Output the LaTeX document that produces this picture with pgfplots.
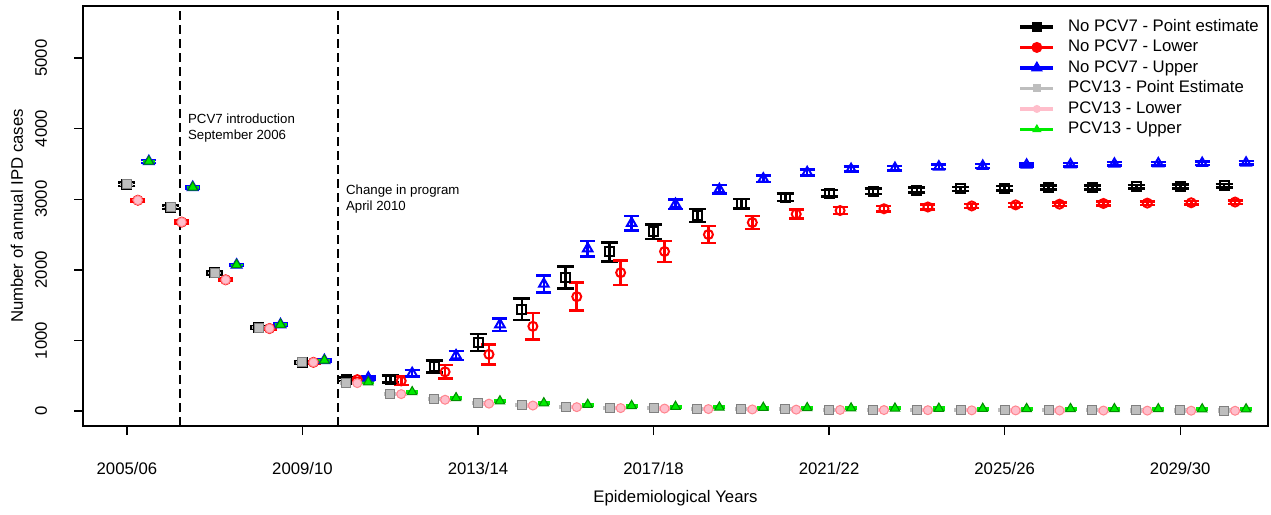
\documentclass[border=0pt]{standalone}
\usepackage{fontspec}
\setmainfont{Liberation Sans}
\usepackage{pgfplots}
\usepackage{pgfplotstable}
\pgfplotsset{compat=1.18}
\definecolor{pcvgray}{RGB}{190,190,190}
\definecolor{pcvpink}{RGB}{255,190,203}
\definecolor{pcvgreen}{RGB}{0,235,0}
\definecolor{pcvblue}{RGB}{0,0,255}
\definecolor{pcvred}{RGB}{255,0,0}

\pgfplotstableread{
i pe pee lo loe up upe g p gr ge
0 3211 25 2986 20 3535 20 3211 2986 3535 0
1 2887 25 2676 20 3169 20 2887 2676 3169 0
2 1958 20 1859 15 2070 15 1958 1859 2070 0
3 1183 15 1169 15 1225 15 1183 1169 1225 0
4 690 15 690 15 718 15 690 690 718 0
5 451 25 445 25 470 20 400 395 410 12
6 451 50 427 60 535 45 245 240 270 12
7 635 85 555 95 786 64 165 160 185 12
8 972 120 803 140 1225 90 113 105 141 12
9 1440 150 1200 190 1800 120 85 78 113 12
10 1890 155 1620 200 2300 110 62 55 90 12
11 2255 135 1960 175 2660 100 48 42 75 12
12 2540 105 2260 150 2930 70 40 35 62 12
13 2770 90 2500 120 3140 60 33 28 52 12
14 2935 70 2670 90 3290 45 28 23 48 12
15 3030 55 2790 65 3380 40 24 20 44 12
16 3085 45 2840 50 3425 35 20 16 40 12
17 3113 40 2865 40 3440 30 18 14 38 12
18 3130 35 2890 35 3460 30 16 12 36 12
19 3145 30 2905 30 3470 28 14 10 34 12
20 3155 30 2920 28 3485 25 12 9 32 12
21 3165 28 2930 25 3490 25 11 8 31 12
22 3170 28 2940 25 3500 25 10 7 30 12
23 3175 27 2945 25 3505 25 9 6 29 12
24 3180 27 2950 25 3510 25 8 5 28 12
25 3190 27 2960 25 3515 25 7 4 27 12
}\data

\begin{document}
\begin{tikzpicture}
\begin{axis}[
  scale only axis, width=1185bp, height=420bp,
  xmin=-1, xmax=26, ymin=-212, ymax=5737,
  axis line style={line width=1.4bp},
  tick style={line width=1.4bp, black},
  tick align=outside, major tick length=9bp,
  xtick pos=bottom, ytick pos=left,
  xtick={0,4,8,12,16,20,24},
  xticklabels={2005/06,2009/10,2013/14,2017/18,2021/22,2025/26,2029/30},
  ytick={0,1000,2000,3000,4000,5000},
  yticklabels={0,1000,2000,3000,4000,5000},
  tick label style={font=\fontsize{16.8}{20}\selectfont},
  xticklabel style={anchor=center, yshift=-34bp},
  yticklabel style={xshift=-33bp, rotate=90, anchor=center},
  xlabel={Epidemiological Years},
  ylabel={Number of annual IPD cases},
  label style={font=\fontsize{16.8}{20}\selectfont},
  xlabel style={at={(axis description cs:0.5,-0.1714)}, anchor=center},
  ylabel style={at={(axis description cs:-0.0557,0.5)}, anchor=center},
  legend style={at={(1,1)}, anchor=north east, xshift=-9bp, yshift=-13bp,
    draw=none, fill=none, inner sep=0pt, row sep=5bp, column sep=13bp,
    font=\fontsize{16.8}{20}\selectfont,
    nodes={inner sep=0pt, text height=12bp, text depth=3.5bp}},
  legend cell align=left,
  legend image code/.code={\draw[mark repeat=2,mark phase=2,#1] plot coordinates {(0bp,0bp) (16.5bp,0bp) (33bp,0bp)};},
]
\addlegendimage{black, line width=3.5bp, mark=square*, mark size=4.5bp, mark options={solid, line width=1bp}}
\addlegendentry{No PCV7 - Point estimate}
\addlegendimage{pcvred, line width=3.5bp, mark=*, mark size=5bp, mark options={solid, line width=1bp}}
\addlegendentry{No PCV7 - Lower}
\addlegendimage{pcvblue, line width=3.5bp, mark=triangle*, mark size=6bp, mark options={solid, line width=1bp}}
\addlegendentry{No PCV7 - Upper}
\addlegendimage{pcvgray, line width=3.5bp, mark=square*, mark size=3.5bp, mark options={solid, line width=1bp}}
\addlegendentry{PCV13 - Point Estimate}
\addlegendimage{pcvpink, line width=3.5bp, mark=*, mark size=3.5bp, mark options={solid, line width=1bp}}
\addlegendentry{PCV13 - Lower}
\addlegendimage{pcvgreen, line width=3.5bp, mark=triangle*, mark size=4.5bp, mark options={solid, line width=1bp}}
\addlegendentry{PCV13 - Upper}

\addplot[black, line width=1.8bp, dash pattern=on 9bp off 5bp] coordinates {(1.207,-212) (1.207,5737)};
\addplot[black, line width=1.8bp, dash pattern=on 9bp off 5bp] coordinates {(4.81,-212) (4.81,5737)};

\addplot[black, only marks, mark=square, mark size=4.5bp, mark options={line width=2bp},
  error bars/.cd, y dir=both, y explicit,
  error bar style={line width=2.6bp, black},
  error mark options={rotate=90, line width=2.6bp, mark size=8.5bp, black}]
  table[x=i, y=pe, y error=pee]{\data};
\addplot[pcvred, only marks, mark=o, mark size=4.5bp, mark options={line width=2bp},
  error bars/.cd, y dir=both, y explicit,
  error bar style={line width=2.6bp, pcvred},
  error mark options={rotate=90, line width=2.6bp, mark size=7.5bp, pcvred}]
  table[x expr=\thisrow{i}+0.25, y=lo, y error=loe]{\data};
\addplot[pcvblue, only marks, mark=triangle, mark size=5.5bp, mark options={line width=2bp},
  error bars/.cd, y dir=both, y explicit,
  error bar style={line width=2.6bp, pcvblue},
  error mark options={rotate=90, line width=2.6bp, mark size=7.5bp, pcvblue}]
  table[x expr=\thisrow{i}+0.5, y=up, y error=upe]{\data};

\addplot[pcvgray, only marks, mark=square*, mark size=4.5bp, mark options={line width=1bp, fill=pcvgray, draw=gray},
  error bars/.cd, y dir=both, y explicit,
  error bar style={line width=2.5bp, pcvgray},
  error mark options={rotate=90, line width=2.5bp, mark size=6.5bp, pcvgray}]
  table[x=i, y=g, y error=ge]{\data};
\addplot[pcvpink, only marks, mark=*, mark size=4.5bp, mark options={line width=1bp, fill=pcvpink, draw=pcvpink!70!red},
  error bars/.cd, y dir=both, y explicit,
  error bar style={line width=2.5bp, pcvpink},
  error mark options={rotate=90, line width=2.5bp, mark size=5.5bp, pcvpink}]
  table[x expr=\thisrow{i}+0.25, y=p, y error=ge]{\data};
\addplot[pcvgreen, only marks, mark=triangle*, mark size=5.5bp, mark options={line width=1bp, fill=pcvgreen, draw=pcvgreen!60!black},
  error bars/.cd, y dir=both, y explicit,
  error bar style={line width=2.5bp, pcvgreen},
  error mark options={rotate=90, line width=2.5bp, mark size=6bp, pcvgreen}]
  table[x expr=\thisrow{i}+0.5, y=gr, y error=ge]{\data};

\node[anchor=base west, inner sep=0pt, font=\fontsize{13.3}{16}\selectfont] at (axis cs:1.39,4079) {PCV7 introduction};
\node[anchor=base west, inner sep=0pt, font=\fontsize{13.3}{16}\selectfont] at (axis cs:1.39,3853) {September 2006};
\node[anchor=base west, inner sep=0pt, font=\fontsize{13.3}{16}\selectfont] at (axis cs:4.99,3074) {Change in program};
\node[anchor=base west, inner sep=0pt, font=\fontsize{13.3}{16}\selectfont] at (axis cs:4.99,2847) {April 2010};
\end{axis}
\pgfresetboundingbox
\path[use as bounding box] ([shift={(-83bp,-88bp)}]current axis.south west) rectangle ([shift={(3bp,6bp)}]current axis.north east);
\end{tikzpicture}
\end{document}
